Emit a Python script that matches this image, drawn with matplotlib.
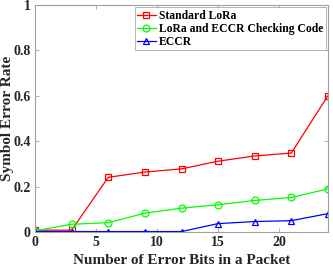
import matplotlib.pyplot as plt

# Number of error bits in a packet
bits = [0, 3, 6, 9, 12, 15, 18, 21, 24]

# Symbol error rate of each scheme
ser_lora = [0.008, 0.008, 0.241, 0.264, 0.278, 0.312, 0.335, 0.348, 0.601]
ser_check = [0.005, 0.034, 0.041, 0.083, 0.105, 0.120, 0.139, 0.152, 0.190]
ser_eccr = [0.002, 0.002, 0.002, 0.002, 0.002, 0.037, 0.046, 0.050, 0.081]

labels = ['Standard LoRa', 'LoRa and ECCR Checking Code', 'ECCR']

plt.rcParams['font.family'] = ['Liberation Serif', 'DejaVu Serif']
plt.rcParams['font.weight'] = 'bold'

fig = plt.figure(figsize=(3.33, 2.67), dpi=100)
ax = fig.add_axes([35 / 333, 35 / 267, 293 / 333, 227 / 267])

ax.plot(bits, ser_lora, color='#ff0000', lw=0.9, marker='s', ms=4,
        mfc='none', mew=0.9, label=labels[0])
ax.plot(bits, ser_check, color='#00ff00', lw=0.9, marker='o', ms=5,
        mfc='none', mew=0.9, label=labels[1])
ax.plot(bits, ser_eccr, color='#0000ff', lw=0.9, marker='^', ms=5,
        mfc='none', mew=0.9, label=labels[2])

ax.set_xlim(0, 24)
ax.set_ylim(0, 1)
ax.set_xticks([0, 5, 10, 15, 20])
ax.set_yticks([0, 0.2, 0.4, 0.6, 0.8, 1])
ax.set_yticklabels(['0', '0.2', '0.4', '0.6', '0.8', '1'])

for s in ax.spines.values():
    s.set_color('#a0a0a0')
    s.set_linewidth(0.8)
ax.tick_params(direction='in', top=True, right=True, length=3,
               width=0.6, color='#a0a0a0', labelsize=10,
               labelcolor='#262626', pad=3)
for t in ax.get_xticklabels() + ax.get_yticklabels():
    t.set_fontweight('bold')

ax.set_xlabel('Number of Error Bits in a Packet', fontsize=11,
              fontweight='bold', color='#262626')
ax.set_ylabel('Symbol Error Rate', fontsize=11, fontweight='bold',
              color='#262626')
ax.xaxis.set_label_coords(0.5, -0.095)
ax.yaxis.set_label_coords(-0.07, 0.5)

leg = ax.legend(loc='upper right', frameon=True, fancybox=False,
                edgecolor='#a0a0a0', borderpad=0.2, labelspacing=0.1,
                handlelength=1.6, handletextpad=0.3, borderaxespad=0.2,
                prop={'weight': 'bold', 'size': 8.4})
leg.get_frame().set_linewidth(0.7)

fig.savefig('out.png', dpi=100)
